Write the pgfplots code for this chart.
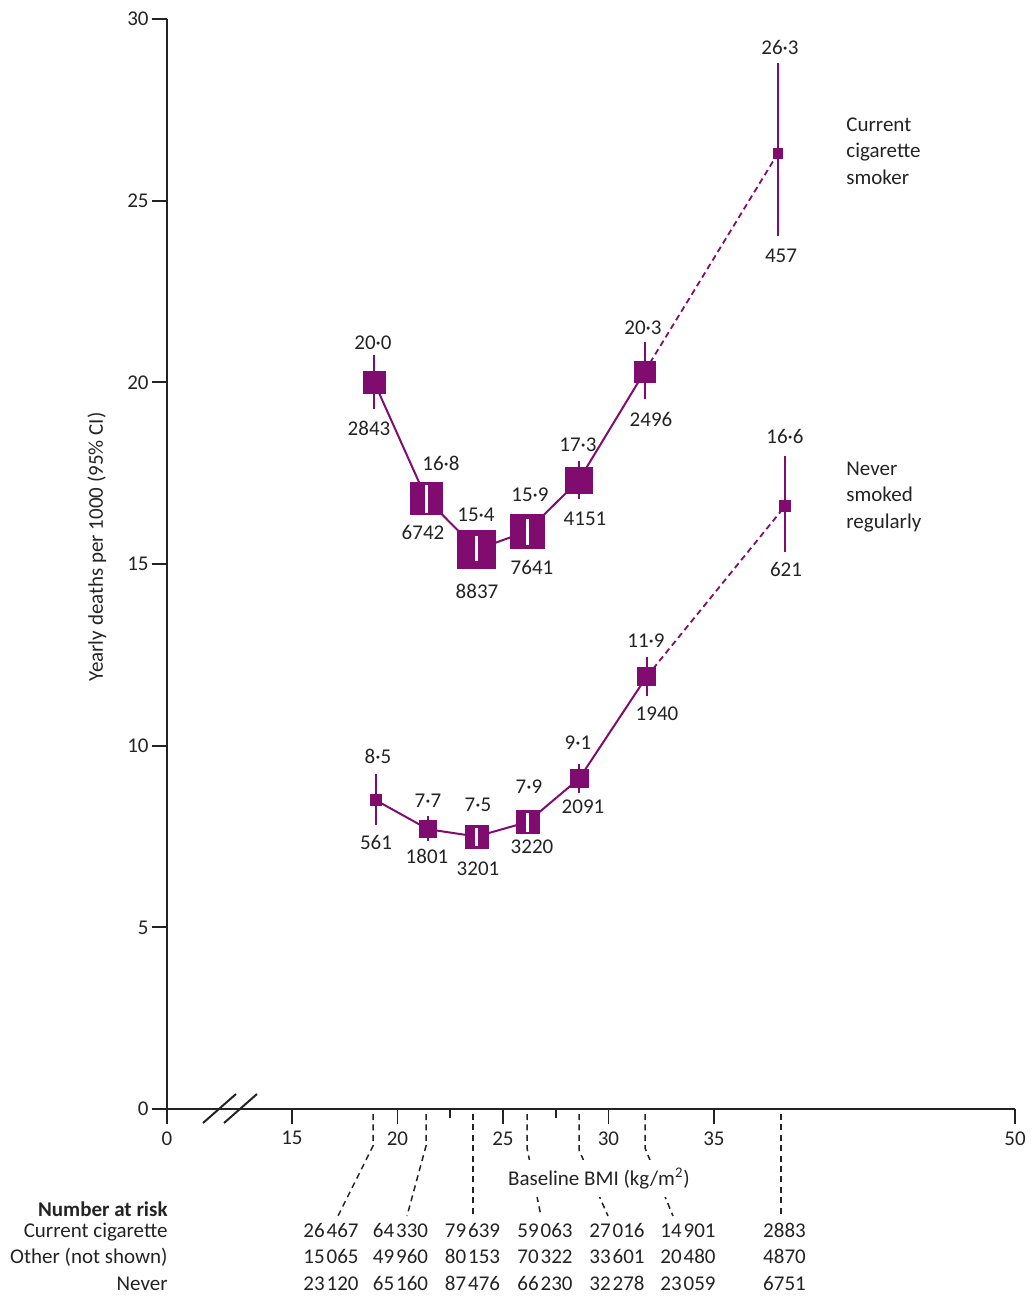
\documentclass[border=0pt]{standalone}
\usepackage{pgfplots}
\pgfplotsset{compat=1.18}
\usepackage{pgfplotstable}
\usepackage{fontspec}
\setmainfont{Carlito}
\definecolor{purp}{RGB}{128,12,112}
\definecolor{ink}{RGB}{35,35,35}
\newcommand{\ts}{\kern1pt}

\pgfplotstableread{
x y ep em ms
18.90 20.0 0.75 0.72 5.5
21.37 16.8 0.38 0.40 8.1
23.76 15.4 0.36 0.32 9.5
26.15 15.9 0.34 0.37 8.6
28.59 17.3 0.54 0.50 6.6
31.72 20.3 0.81 0.77 5.25
38.03 26.3 2.50 2.27 2.3
}\smoker

\pgfplotstableread{
x y ep em ms
18.97 8.5 0.73 0.67 2.75
21.45 7.7 0.37 0.32 4.3
23.75 7.5 0.24 0.26 5.7
26.17 7.9 0.25 0.28 5.75
28.62 9.1 0.39 0.39 4.7
31.81 11.9 0.55 0.52 4.5
38.38 16.6 1.38 1.26 2.7
}\never

\begin{document}
\fontsize{10.5}{13.25}\selectfont
\begin{tikzpicture}
\begin{scope}[x=0.5pt,y=-0.5pt]
\useasboundingbox (0,0) rectangle (1034,1303);
\end{scope}
\begin{axis}[
  at={(83.5pt,-554.5pt)}, anchor=south west,
  scale only axis, width=424pt, height=545pt,
  xmin=9.076, xmax=49.27, ymin=0, ymax=30,
  axis x line=bottom, axis y line=left,
  axis line style={-, line width=0.9pt, ink},
  tick style={line width=0.9pt, ink},
  tick align=outside, major tick length=7.5pt,
  xtick={9.076,15,20,25,30,35,49.27},
  xticklabels={0,15,20,25,30,35,50},
  extra x ticks={22.5,27.5}, extra x tick labels={},
  extra x tick style={major tick length=4.5pt},
  ytick={0,5,10,15,20,25,30},
  yticklabels={0,5,10,15,20,25,30},
  tick label style={text=ink, font=\fontsize{10.5}{12}\selectfont},
  yticklabel style={inner xsep=1.5pt},
  clip=false, clip marker paths=true,
]
% current smokers
\addplot[purp, line width=1pt, mark=none, skip coords between index={6}{7},
  error bars/.cd, y dir=both, y explicit, error mark=none,
  error bar style={purp, line width=1pt, solid}]
  table[x=x, y=y, y error plus=ep, y error minus=em] \smoker;
\addplot[purp, line width=0.9pt, mark=none, dash pattern=on 3pt off 2pt,
  skip coords between index={0}{5},
  error bars/.cd, y dir=both, y explicit, error mark=none,
  error bar style={purp, line width=1pt, solid}]
  table[x=x, y=y, y error plus=ep, y error minus=em] \smoker;
% never smoked
\addplot[purp, line width=1pt, mark=none, skip coords between index={6}{7},
  error bars/.cd, y dir=both, y explicit, error mark=none,
  error bar style={purp, line width=1pt, solid}]
  table[x=x, y=y, y error plus=ep, y error minus=em] \never;
\addplot[purp, line width=0.9pt, mark=none, dash pattern=on 3pt off 2pt,
  skip coords between index={0}{5},
  error bars/.cd, y dir=both, y explicit, error mark=none,
  error bar style={purp, line width=1pt, solid}]
  table[x=x, y=y, y error plus=ep, y error minus=em] \never;
% boxes
\addplot[scatter, only marks, mark=square*, point meta=explicit,
  scatter/use mapped color={draw=purp, fill=purp},
  visualization depends on={\thisrow{ms} \as \msz},
  scatter/@pre marker code/.append style={/tikz/mark size=\msz pt, /tikz/line width=0.1pt}]
  table[x=x, y=y, meta=y] \smoker;
\addplot[scatter, only marks, mark=square*, point meta=explicit,
  scatter/use mapped color={draw=purp, fill=purp},
  visualization depends on={\thisrow{ms} \as \msz},
  scatter/@pre marker code/.append style={/tikz/mark size=\msz pt, /tikz/line width=0.1pt}]
  table[x=x, y=y, meta=y] \never;
% confidence intervals inside the large boxes (white)
\addplot[white, line width=1.4pt, mark=none, unbounded coords=jump]
  coordinates {
    (21.37,16.40) (21.37,17.18) (21.37,nan)
    (23.76,15.08) (23.76,15.76) (23.76,nan)
    (26.15,15.53) (26.15,16.24) (26.15,nan)
    (23.75,7.24) (23.75,7.74) (23.75,nan)
    (26.17,7.62) (26.17,8.15)
  };
\end{axis}

\begin{scope}[x=0.5pt,y=-0.5pt, every node/.style={text=ink, inner sep=0pt}]
% axis break
\draw[ink, line width=1pt] (203,1123) -- (236,1094);
\draw[ink, line width=1pt] (224,1123) -- (257,1094);
% y label
\node[rotate=90] at (97,547) {Yearly deaths per 1000 (95\% CI)};
% value labels, current smokers
\node at (373,343) {20·0};   \node at (369,428) {2843};
\node at (441,463) {16·8};   \node at (423,532) {6742};
\node at (476,515) {15·4};   \node at (477,591) {8837};
\node at (530,495) {15·9};   \node at (532,567) {7641};
\node at (578,445) {17·3};   \node at (585,519) {4151};
\node at (643,328) {20·3};   \node at (651,419) {2496};
\node at (780,47) {26·3};    \node at (781,256) {457};
% value labels, never smoked
\node at (378,756) {8·5};    \node at (376,842) {561};
\node at (428,801) {7·7};    \node at (427,856) {1801};
\node at (478,805) {7·5};    \node at (478,869) {3201};
\node at (529,787) {7·9};    \node at (532,847) {3220};
\node at (578,743) {9·1};    \node at (583,807) {2091};
\node at (646,641) {11·9};   \node at (657,714) {1940};
\node at (785,436) {16·6};   \node at (786,569) {621};
% series names
\node[anchor=base west] at (846,131) {Current};
\node[anchor=base west] at (846,157.5) {cigarette};
\node[anchor=base west] at (846,184) {smoker};
\node[anchor=base west] at (846,475) {Never};
\node[anchor=base west] at (846,501.5) {smoked};
\node[anchor=base west] at (846,528) {regularly};
% leader lines
\begin{scope}[ink, line width=0.75pt, dash pattern=on 3pt off 2.2pt]
\draw (373,1114) -- (373,1146) -- (338,1216);
\draw (426,1114) -- (426,1146) -- (407,1216);
\draw (473,1114) -- (473,1216);
\draw (527,1114) -- (527,1148) -- (541,1216);
\draw (579,1114) -- (579,1150) -- (608,1216);
\draw (645,1114) -- (645,1148) -- (673,1216);
\draw (781,1114) -- (781,1216);
\end{scope}
\node[anchor=base, fill=white, inner xsep=3pt, inner ysep=4pt] at (599,1185) {Baseline BMI (kg/m\textsuperscript{2})};
% number at risk
\node[anchor=base east, font=\bfseries] at (168,1216) {Number at risk};
\node[anchor=base east] at (168,1237) {Current cigarette};
\node[anchor=base east] at (168,1263.5) {Other (not shown)};
\node[anchor=base east] at (168,1290) {Never};
\begin{scope}[every node/.append style={anchor=base}]
\node at (331,1237) {26\ts467};  \node at (400.5,1237) {64\ts330};
\node at (472.5,1237) {79\ts639}; \node at (545,1237) {59\ts063};
\node at (617,1237) {27\ts016};  \node at (688,1237) {14\ts901};
\node at (784.5,1237) {2883};
\node at (331,1263.5) {15\ts065};  \node at (400.5,1263.5) {49\ts960};
\node at (472.5,1263.5) {80\ts153}; \node at (545,1263.5) {70\ts322};
\node at (617,1263.5) {33\ts601};  \node at (688,1263.5) {20\ts480};
\node at (784.5,1263.5) {4870};
\node at (331,1290) {23\ts120};  \node at (400.5,1290) {65\ts160};
\node at (472.5,1290) {87\ts476}; \node at (545,1290) {66\ts230};
\node at (617,1290) {32\ts278};  \node at (688,1290) {23\ts059};
\node at (784.5,1290) {6751};
\end{scope}
\end{scope}
\end{tikzpicture}
\end{document}
